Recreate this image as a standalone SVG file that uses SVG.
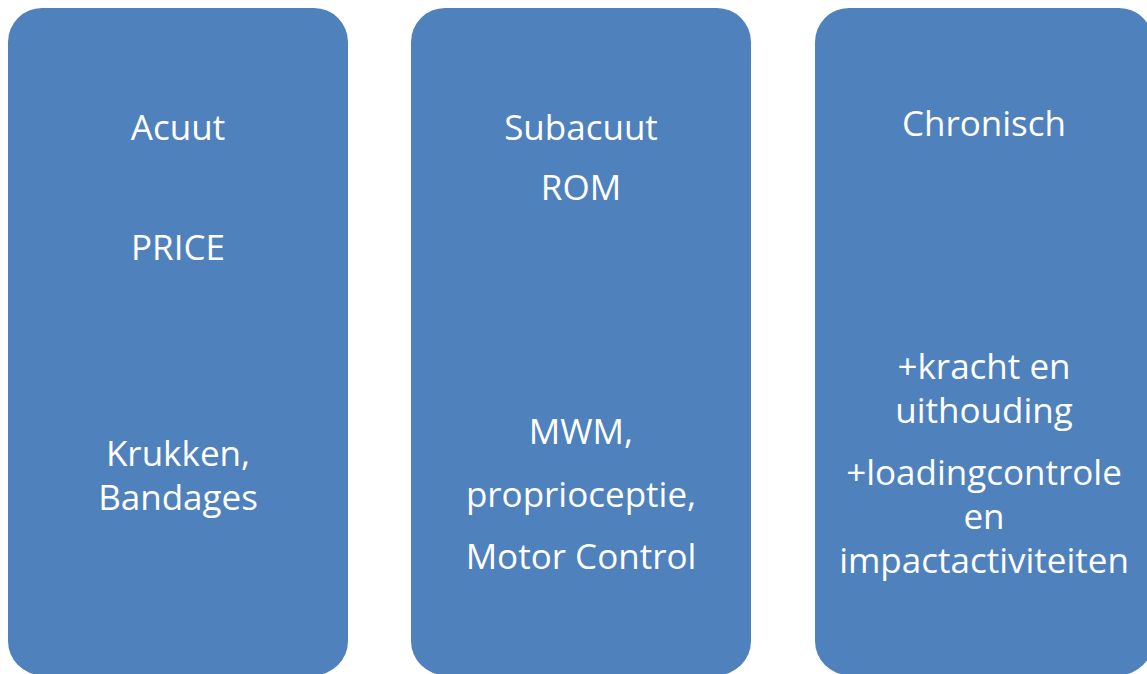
<svg xmlns="http://www.w3.org/2000/svg" width="1147" height="674" viewBox="0 0 1147 674">
  <style>
    .box { fill: #4F81BD; }
    .t { fill: #FFFFFF; font-family: "Open Sans", "Liberation Sans", sans-serif; font-size: 35px; text-anchor: middle; }
  </style>
  <rect width="1147" height="674" fill="#FFFFFF"/>
  <g id="node-acuut">
    <rect class="box" x="8" y="8" width="340" height="667" rx="34" ry="34"/>
    <text class="t" x="178" y="140">Acuut</text>
    <text class="t" x="178" y="260">PRICE</text>
    <text class="t" x="178" y="466">Krukken,</text>
    <text class="t" x="178" y="510">Bandages</text>
  </g>
  <g id="node-subacuut">
    <rect class="box" x="411" y="8" width="340" height="667" rx="34" ry="34"/>
    <text class="t" x="581" y="140">Subacuut</text>
    <text class="t" x="581" y="200">ROM</text>
    <text class="t" x="581" y="444">MWM,</text>
    <text class="t" x="581" y="507">proprioceptie,</text>
    <text class="t" x="581" y="569">Motor Control</text>
  </g>
  <g id="node-chronisch">
    <rect class="box" x="815" y="8" width="338" height="667" rx="34" ry="34"/>
    <text class="t" x="984" y="136">Chronisch</text>
    <text class="t" x="984" y="379">+kracht en</text>
    <text class="t" x="984" y="423">uithouding</text>
    <text class="t" x="984" y="485">+loadingcontrole</text>
    <text class="t" x="984" y="529">en</text>
    <text class="t" x="984" y="573">impactactiviteiten</text>
  </g>
  <g id="connectors"></g>
</svg>
